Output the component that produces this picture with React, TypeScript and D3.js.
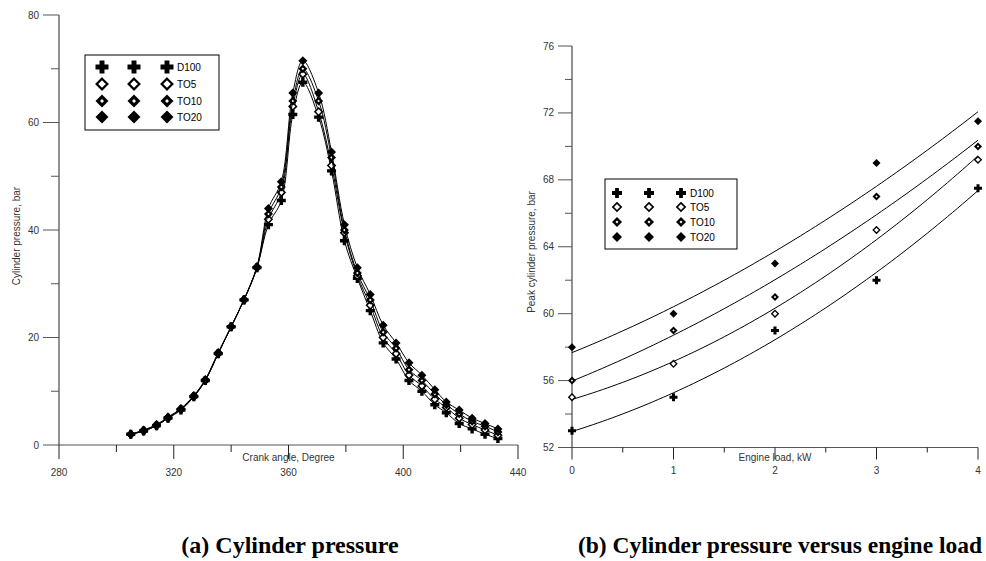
import * as d3 from 'd3';

// ---- data ----
const seriesNames = ['D100', 'TO5', 'TO10', 'TO20'];

const crankAngle = [305, 309.5, 314, 318, 322.5, 327, 331, 335.5, 340, 344.5, 349, 353, 357.5, 361.5, 365,
  370.5, 375, 379.5, 384, 388.5, 393, 397.5, 402, 406.5, 411, 415, 419.5, 424, 428.5, 433];

const pressD100 = [2, 2.6, 3.6, 5, 6.5, 9, 12, 17, 22, 27, 33, 41, 45.5, 61.5, 67.5,
  61, 51, 38, 31, 25, 19, 16, 12, 10, 7.5, 6, 4, 3, 2, 1.2];
const pressTO5 = [2, 2.6, 3.6, 5, 6.6, 9, 12, 17, 22, 27, 33, 42, 47, 63, 69,
  62, 52, 39.5, 31.5, 26, 20, 17, 13, 11, 8.5, 7, 5, 3.8, 2.8, 1.8];
const pressTO10 = [2, 2.7, 3.7, 5.1, 6.7, 9.1, 12.1, 17.1, 22, 27, 33, 43, 48, 64, 70,
  64, 53.5, 40, 32, 27, 21, 18, 14, 12, 9.5, 7.5, 5.8, 4.4, 3.5, 2.4];
const pressTO20 = [2, 2.8, 3.8, 5.2, 6.8, 9.2, 12.2, 17.2, 22, 27.1, 33.2, 44, 49, 65.5, 71.5,
  65.5, 54.5, 41, 33, 28, 22.3, 19, 15.3, 13, 10.3, 8, 6.5, 5, 4, 3];

const engineLoad = [0, 1, 2, 3, 4];
const peakD100 = [53, 55, 59, 62, 67.5];
const peakTO5 = [55, 57, 60, 65, 69.2];
const peakTO10 = [56, 59, 61, 67, 70];
const peakTO20 = [58, 60, 63, 69, 71.5];

const crankTicks = [280, 320, 360, 400, 440];
const crankMinor = [300, 340, 380, 420];
const pressTicks = [0, 20, 40, 60, 80];
const pressMinor = [10, 30, 50, 70];
const loadTicks = [0, 1, 2, 3, 4];
const loadMinor = [0.5, 1.5, 2.5, 3.5];
const peakTicks = [52, 56, 60, 64, 68, 72, 76];
const peakMinor = [54, 58, 62, 66, 70, 74];

const pressSeries = [pressD100, pressTO5, pressTO10, pressTO20];
const peakSeries = [peakD100, peakTO5, peakTO10, peakTO20];

const FONT = 'Liberation Sans, Arial, sans-serif';
const SERIF = 'Liberation Serif, Times New Roman, serif';
const AXIS = '#222';
const TICK = '#555';
const LABEL = '#333';

// quadratic least squares fit -> [a, b, c] for a + b x + c x^2
function quadFit(xs: number[], ys: number[]) {
  const s = [0, 0, 0, 0, 0];
  const t = [0, 0, 0];
  xs.forEach((x, i) => {
    for (let k = 0; k < 5; k++) s[k] += x ** k;
    for (let k = 0; k < 3; k++) t[k] += ys[i] * x ** k;
  });
  const m = [
    [s[0], s[1], s[2], t[0]],
    [s[1], s[2], s[3], t[1]],
    [s[2], s[3], s[4], t[2]],
  ];
  for (let i = 0; i < 3; i++) {
    for (let j = i + 1; j < 3; j++) {
      const f = m[j][i] / m[i][i];
      for (let k = i; k < 4; k++) m[j][k] -= f * m[i][k];
    }
  }
  const c = [0, 0, 0];
  for (let i = 2; i >= 0; i--) {
    let v = m[i][3];
    for (let k = i + 1; k < 3; k++) v -= m[i][k] * c[k];
    c[i] = v / m[i][i];
  }
  return c;
}

const plusPath = (s: number) => {
  const a = s / 2;
  const b = s * 0.19;
  return `M${-b},${-a}H${b}V${-b}H${a}V${b}H${b}V${a}H${-b}V${b}H${-a}V${-b}H${-b}Z`;
};
const diamondPath = (s: number) => `M0,${-s / 2}L${s / 2},0L0,${s / 2}L${-s / 2},0Z`;

function Marker({ kind, x, y, s }: { kind: number; x: number; y: number; s: number }) {
  const tr = `translate(${x},${y})`;
  if (kind === 0) return <path transform={tr} d={plusPath(s)} fill="#000" />;
  if (kind === 1) {
    return <path transform={tr} d={diamondPath(s * 0.82)} fill="#fff" stroke="#000" strokeWidth={s * 0.17} />;
  }
  if (kind === 2) {
    return (
      <g transform={tr}>
        <path d={diamondPath(s)} fill="#000" />
        <path d={diamondPath(s * 0.3)} fill="#fff" />
      </g>
    );
  }
  return <path transform={tr} d={diamondPath(s)} fill="#000" />;
}

function Legend({ x, y, w, h, cols, rowY, textX, s }: {
  x: number; y: number; w: number; h: number; cols: number[]; rowY: number[]; textX: number; s: number;
}) {
  return (
    <g>
      <rect x={x} y={y} width={w} height={h} fill="#fff" stroke="#000" strokeWidth={1} />
      {seriesNames.map((name, i) => (
        <g key={name}>
          {cols.map((cx) => <Marker key={cx} kind={i} x={cx} y={rowY[i]} s={s} />)}
          <text x={textX} y={rowY[i] + 3.5} fontFamily={FONT} fontSize={10} fill="#000">{name}</text>
        </g>
      ))}
    </g>
  );
}

function CylinderChart() {
  const x = d3.scaleLinear().domain([280, 440]).range([59, 518]);
  const y = d3.scaleLinear().domain([0, 80]).range([445, 15]);
  const line = d3.line<number>()
    .x((_, i) => x(crankAngle[i]))
    .y((d) => y(d))
    .curve(d3.curveCatmullRom.alpha(0.5));
  return (
    <g>
      <line x1={x(280)} x2={x(440)} y1={y(0)} y2={y(0)} stroke={TICK} strokeWidth={1} />
      <line x1={x(280)} x2={x(280)} y1={y(80)} y2={y(0)} stroke={AXIS} strokeWidth={1} />
      {pressTicks.map((t) => (
        <g key={t}>
          <line x1={x(280) - 16} x2={x(280)} y1={y(t)} y2={y(t)} stroke={TICK} />
          <text x={39} y={y(t) + 3.5} textAnchor="end" fontFamily={FONT} fontSize={10} fill={LABEL}>{t}</text>
        </g>
      ))}
      {pressMinor.map((t) => (
        <line key={t} x1={x(280) - 8} x2={x(280)} y1={y(t)} y2={y(t)} stroke={TICK} />
      ))}
      {crankTicks.map((t) => (
        <g key={t}>
          <line x1={x(t)} x2={x(t)} y1={y(0)} y2={y(0) + 14} stroke={AXIS} />
          <text x={x(t)} y={476} textAnchor="middle" fontFamily={FONT} fontSize={10} fill={LABEL}>{t}</text>
        </g>
      ))}
      {crankMinor.map((t) => (
        <line key={t} x1={x(t)} x2={x(t)} y1={y(0)} y2={y(0) + 7} stroke={AXIS} />
      ))}
      <text x={(x(280) + x(440)) / 2} y={461} textAnchor="middle" fontFamily={FONT} fontSize={10} fill={LABEL}>
        Crank angle, Degree
      </text>
      <text transform="translate(20,236) rotate(-90)" textAnchor="middle" fontFamily={FONT} fontSize={10} fill={LABEL}>
        Cylinder pressure, bar
      </text>

      {pressSeries.map((vals, i) => (
        <g key={seriesNames[i]}>
          <path d={line(vals) || ''} fill="none" stroke="#000" strokeWidth={1} />
          {vals.map((v, j) => <Marker key={j} kind={i} x={x(crankAngle[j])} y={y(v)} s={9} />)}
        </g>
      ))}

      <Legend x={85} y={55} w={134} h={75} cols={[102, 134, 167]} rowY={[67, 84, 101, 117]} textX={177} s={13} />
    </g>
  );
}

function PeakChart() {
  const x = d3.scaleLinear().domain([0, 4]).range([572, 978]);
  const y = d3.scaleLinear().domain([52, 76]).range([447.5, 46]);
  const fitX = d3.range(0, 4.0001, 0.05);
  const fitLine = d3.line<number>().x((d) => x(d));
  return (
    <g>
      <line x1={x(0)} x2={x(4)} y1={y(52)} y2={y(52)} stroke={TICK} strokeWidth={1} />
      <line x1={x(0)} x2={x(0)} y1={y(76)} y2={y(52)} stroke={AXIS} strokeWidth={1} />
      {peakTicks.map((t) => (
        <g key={t}>
          <line x1={x(0) - 14} x2={x(0)} y1={y(t)} y2={y(t)} stroke={TICK} />
          <text x={554} y={y(t) + 3.5} textAnchor="end" fontFamily={FONT} fontSize={10} fill={LABEL}>{t}</text>
        </g>
      ))}
      {peakMinor.map((t) => (
        <line key={t} x1={x(0) - 7} x2={x(0)} y1={y(t)} y2={y(t)} stroke={TICK} />
      ))}
      {loadTicks.map((t) => (
        <g key={t}>
          <line x1={x(t)} x2={x(t)} y1={y(52)} y2={y(52) + 12} stroke={AXIS} />
          <text x={x(t)} y={474} textAnchor="middle" fontFamily={FONT} fontSize={10} fill={LABEL}>{t}</text>
        </g>
      ))}
      {loadMinor.map((t) => (
        <line key={t} x1={x(t)} x2={x(t)} y1={y(52)} y2={y(52) + 5} stroke={AXIS} />
      ))}
      <text x={(x(0) + x(4)) / 2} y={461} textAnchor="middle" fontFamily={FONT} fontSize={10} fill={LABEL}>
        Engine load, kW
      </text>
      <text transform="translate(535,252) rotate(-90)" textAnchor="middle" fontFamily={FONT} fontSize={10} fill={LABEL}>
        Peak cylinder pressure, bar
      </text>

      {peakSeries.map((vals, i) => {
        const c = quadFit(engineLoad, vals);
        const path = fitLine.y((d) => y(c[0] + c[1] * d + c[2] * d * d))(fitX);
        return (
          <g key={seriesNames[i]}>
            <path d={path || ''} fill="none" stroke="#000" strokeWidth={1} />
            {vals.map((v, j) => <Marker key={j} kind={i} x={x(engineLoad[j])} y={y(v)} s={8} />)}
          </g>
        );
      })}

      <Legend x={605} y={179} w={132} h={70} cols={[617, 649, 681]} rowY={[193, 207, 222, 237]} textX={690} s={10} />
    </g>
  );
}

export default function App() {
  return (
    <svg width={986} height={561} style={{ position: 'absolute', left: 0, top: 0, background: '#fff' }}>
      <rect width={986} height={561} fill="#fff" />
      <CylinderChart />
      <PeakChart />
      <text x={290} y={553} textAnchor="middle" fontFamily={SERIF} fontWeight="bold" fontSize={24} fill="#000">
        (a) Cylinder pressure
      </text>
      <text x={780} y={553} textAnchor="middle" fontFamily={SERIF} fontWeight="bold" fontSize={23.5} fill="#000">
        (b) Cylinder pressure versus engine load
      </text>
    </svg>
  );
}
